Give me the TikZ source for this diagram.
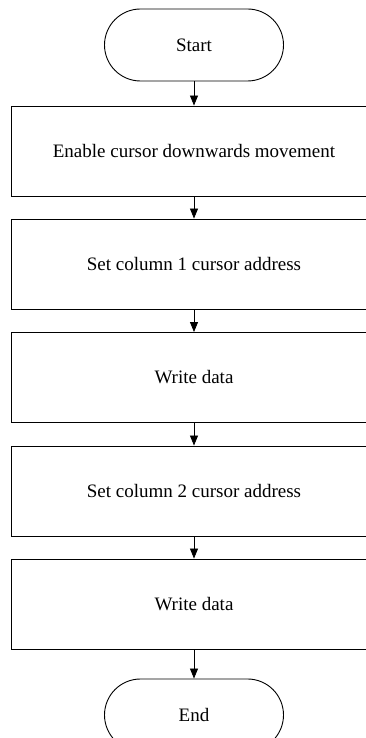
\documentclass[tikz,border=0pt]{standalone}
\usepackage{fontspec}
\setmainfont{Liberation Serif}
\usetikzlibrary{arrows.meta}

\begin{document}
\begin{tikzpicture}[x=1pt,y=1pt,
    procbox/.style={draw,line width=0.9pt,minimum width=366pt,minimum height=90pt,inner sep=0pt,font=\fontsize{19}{23}\selectfont},
    termnode/.style={draw,line width=0.9pt,rounded corners=36pt,minimum width=179pt,minimum height=72pt,inner sep=0pt,font=\fontsize{19}{23}\selectfont},
    flowarrow/.style={-{Triangle[length=10pt,width=8pt]},line width=0.8pt}]
    \useasboundingbox (0,0) rectangle (366,738);
    \clip (0,0) rectangle (366,738);

    \node[termnode] (start) at (194,693) {Start};
    \node[procbox] (enable) at (194,587) {Enable cursor downwards movement};
    \node[procbox] (colA) at (194,474) {Set column 1 cursor address};
    \node[procbox] (writeA) at (194,360.5) {Write data};
    \node[procbox] (colB) at (194,247) {Set column 2 cursor address};
    \node[procbox] (writeB) at (194,134) {Write data};
    \node[termnode] (end) at (194,23) {End};

    \draw[flowarrow] (start.south)--(enable.north);
    \draw[flowarrow] (enable.south)--(colA.north);
    \draw[flowarrow] (colA.south)--(writeA.north);
    \draw[flowarrow] (writeA.south)--(colB.north);
    \draw[flowarrow] (colB.south)--(writeB.north);
    \draw[flowarrow] (writeB.south)--(end.north);
\end{tikzpicture}
\end{document}
